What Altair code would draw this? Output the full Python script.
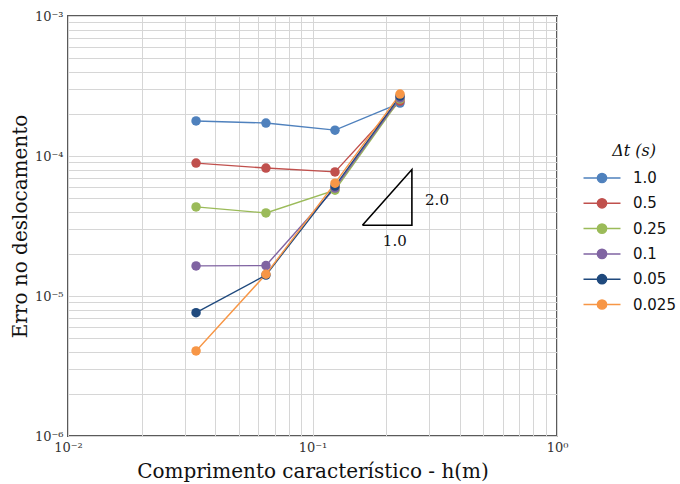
import altair as alt
import pandas as pd

# Characteristic mesh length h (m)
h_values = [0.0334, 0.0645, 0.1236, 0.228]

# Displacement error for each time step
time_steps = ["1.0", "0.5", "0.25", "0.1", "0.05", "0.025"]
err_dt_1_0 = [1.78e-4, 1.72e-4, 1.53e-4, 2.39e-4]
err_dt_0_5 = [8.9e-5, 8.2e-5, 7.7e-5, 2.47e-4]
err_dt_0_25 = [4.33e-5, 3.92e-5, 5.7e-5, 2.55e-4]
err_dt_0_1 = [1.64e-5, 1.65e-5, 5.9e-5, 2.6e-4]
err_dt_0_05 = [7.6e-6, 1.41e-5, 6.1e-5, 2.68e-4]
err_dt_0_025 = [4.05e-6, 1.43e-5, 6.4e-5, 2.77e-4]
errors = [err_dt_1_0, err_dt_0_5, err_dt_0_25, err_dt_0_1, err_dt_0_05, err_dt_0_025]
colors = ["#4F81BD", "#C0504D", "#9BBB59", "#8064A2", "#1F497D", "#F79646"]

# Slope-2 reference triangle
tri_x = [0.16, 0.255, 0.255, 0.16]
tri_y = [3.2e-5, 3.2e-5, 8.0e-5, 3.2e-5]
tri_labels = ["2.0", "1.0"]
tri_label_x = [0.323, 0.217]
tri_label_y = [4.85e-5, 2.47e-5]

# Axis ticks: decades get labels, every 1..9 multiple gets a grid line
x_major = [0.01, 0.1, 1.0]
x_major_labels = ["10⁻²", "10⁻¹", "10⁰"]
y_major = [1e-6, 1e-5, 1e-4, 1e-3]
y_major_labels = ["10⁻⁶", "10⁻⁵", "10⁻⁴", "10⁻³"]
x_ticks = [m * d for d in [0.01, 0.1] for m in range(1, 10)] + [1.0]
y_ticks = [m * d for d in [1e-6, 1e-5, 1e-4] for m in range(1, 10)] + [1e-3]


def label_expr(values, labels):
    expr = "''"
    for v, lab in zip(values, labels):
        expr = f"abs(datum.value - {v!r}) < {v!r} * 1e-6 ? '{lab}' : ({expr})"
    return expr


rows = []
for k, (dt, errs) in enumerate(zip(time_steps, errors)):
    for h, e in zip(h_values, errs):
        rows.append({"h": h, "erro": e, "dt": dt, "k": k})
df = pd.DataFrame(rows)

tri_df = pd.DataFrame({"x": tri_x, "y": tri_y, "i": list(range(len(tri_x)))})
lab_df = pd.DataFrame({"x": tri_label_x, "y": tri_label_y, "t": tri_labels})

serif = "DejaVu Serif"

x_scale = alt.Scale(type="log", domain=[0.01, 1.0], nice=False)
y_scale = alt.Scale(type="log", domain=[1e-6, 1e-3], nice=False)

x_axis = alt.Axis(
    values=x_ticks,
    labelExpr=label_expr(x_major, x_major_labels),
    title="Comprimento característico - h(m)",
    titleFont=serif, titleFontSize=20, titleFontWeight="normal",
    titleColor="#111", titlePadding=7,
    labelFont=serif, labelFontSize=13, labelColor="#333",
    labelPadding=5, ticks=False, domain=False,
    grid=True, gridColor="#D6D6D6", gridWidth=1,
    labelOverlap=False, labelFlush=False,
)
y_axis = alt.Axis(
    values=y_ticks,
    labelExpr=label_expr(y_major, y_major_labels),
    title="Erro no deslocamento",
    titleFont=serif, titleFontSize=20, titleFontWeight="normal",
    titleColor="#111", titlePadding=4,
    labelFont=serif, labelFontSize=13, labelColor="#333",
    labelPadding=5, labelBaseline="alphabetic", labelOffset=4,
    ticks=False, domain=False,
    grid=True, gridColor="#D6D6D6", gridWidth=1,
    labelOverlap=False,
)

# Legend glyph: a short line segment with a dot in the middle
legend_symbol = (
    "M -2 0 L 2 0 "
    "M 0.5 0 A 0.5 0.5 0 1 1 -0.5 0 A 0.5 0.5 0 1 1 0.5 0 Z"
)

color = alt.Color(
    "dt:N",
    sort=time_steps,
    scale=alt.Scale(domain=time_steps, range=colors),
    legend=alt.Legend(
        title="Δt (s)",
        titleFont=serif, titleFontSize=16, titleFontWeight="normal",
        titleFontStyle="italic", titleColor="#111", titleAnchor="middle",
        labelFont="DejaVu Sans", labelFontSize=15, labelColor="#111",
        symbolType=legend_symbol, symbolSize=342, symbolStrokeWidth=1.5,
        symbolOpacity=1, symbolFillColor="transparent",
        rowPadding=7.3, labelOffset=21, titlePadding=9,
        orient="none", legendX=524, legendY=127,
    ),
)

lines = alt.Chart(df).mark_line(strokeWidth=1.4).encode(
    x=alt.X("h:Q", scale=x_scale, axis=x_axis),
    y=alt.Y("erro:Q", scale=y_scale, axis=y_axis),
    color=color,
    detail="k:O",
    order="h:Q",
)
points = alt.Chart(df).mark_circle(size=90, opacity=1).encode(
    x="h:Q",
    y="erro:Q",
    color=alt.Color("dt:N", sort=time_steps, legend=None),
)

triangle = alt.Chart(tri_df).mark_line(color="black", strokeWidth=1.6).encode(
    x="x:Q", y="y:Q", order="i:Q"
)
tri_text = alt.Chart(lab_df).mark_text(
    font=serif, fontSize=15, color="#111"
).encode(x="x:Q", y="y:Q", text="t:N")

chart = (
    alt.layer(lines, points, triangle, tri_text)
    .properties(
        width=489,
        height=420,
        autosize=alt.AutoSizeParams(type="none"),
        padding={"left": 68, "top": 16, "right": 123, "bottom": 48},
        background="white",
    )
    .configure_view(stroke="#5A5A5A", strokeWidth=2)
)

chart.save("out.html", embed_options={"renderer": "svg", "actions": False})
